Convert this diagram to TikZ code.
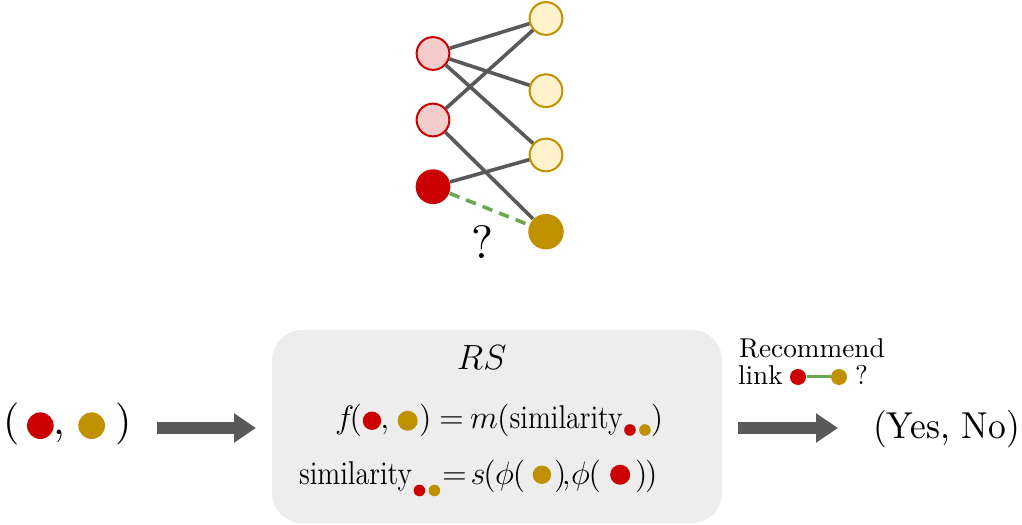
\RequirePackage{fix-cm}
\documentclass[tikz,border=0pt]{standalone}
\usepackage{graphicx}
\usetikzlibrary{arrows.meta}
\definecolor{cred}{HTML}{CC0000}
\definecolor{cgold}{HTML}{BF9000}
\definecolor{lred}{HTML}{F4CCCC}
\definecolor{lyel}{HTML}{FFF2CC}
\definecolor{cgreen}{HTML}{6AA84F}
\definecolor{agray}{HTML}{595959}
\definecolor{boxgray}{HTML}{EDEDED}
\newcommand\tdot[3]{\tikz[baseline=#3]\fill[#1] (0,0) circle[radius=#2];}
\newcommand\simtxt{\mbox{\scalebox{0.85}[1]{\fontsize{13.2}{15}\selectfont similarity}}}
\newcommand\hs[1]{\hspace{#1}}
\begin{document}
\begin{tikzpicture}[x=0.4pt,y=-0.4pt,
  unode/.style={circle,draw=cred,fill=lred,line width=0.8pt,minimum size=13.1pt,inner sep=0pt},
  inode/.style={circle,draw=cgold,fill=lyel,line width=0.8pt,minimum size=13.1pt,inner sep=0pt},
  uq/.style={circle,fill=cred,minimum size=13.9pt,inner sep=0pt},
  iq/.style={circle,fill=cgold,minimum size=14.2pt,inner sep=0pt},
  edge/.style={draw=agray,line width=1.44pt},
  qedge/.style={draw=cgreen,line width=1.44pt,dash pattern=on 4.2pt off 2.9pt},
  bigarrow/.style={draw=agray,line width=4.8pt,-{Triangle[length=8.8pt,width=11.2pt]}},
  rsbox/.style={rectangle,rounded corners=12pt,fill=boxgray,minimum width=180pt,minimum height=77.2pt,inner sep=0pt},
  txt/.style={inner sep=0pt,outer sep=0pt},
  mathline/.style={txt,anchor=base west,font=\fontsize{13}{15}\selectfont}]
\useasboundingbox (0,0) rectangle (1022,525);
% bipartite graph
\node[unode] (u1) at (433,53.5) {};
\node[unode] (u2) at (433,120) {};
\node[uq] (u3) at (433,186.7) {};
\node[inode] (v1) at (546,18.5) {};
\node[inode] (v2) at (546,90.7) {};
\node[inode] (v3) at (546,155) {};
\node[iq] (v4) at (546,231.7) {};
\draw[edge] (u1) -- (v1);
\draw[edge] (u1) -- (v2);
\draw[edge] (u1) -- (v3);
\draw[edge] (u2) -- (v1);
\draw[edge] (u2) -- (v4);
\draw[edge] (u3) -- (v3);
\draw[qedge] (u3) -- (v4);
\node[txt] (q) at (482.3,241.7) {\scalebox{1.87}{\fontsize{10}{12}\selectfont ?}};
% input pair
\node[txt,anchor=base west] (pair) at (3.8,434.5)
  {\scalebox{1.68}{\fontsize{10}{12}\selectfont (\hs{1.64pt}\tdot{cred}{3.17pt}{-2.1pt}\hs{0pt},\hs{3.1pt}\tdot{cgold}{3.17pt}{-2.1pt}\hs{2.4pt})}};
\coordinate (a1s) at (157,428);
\coordinate (a1e) at (256,428);
\draw[bigarrow] (a1s) -- (a1e);
% RS box
\node[rsbox] (rs) at (497,426.5) {};
\node[txt,anchor=base,font=\fontsize{14}{16}\selectfont] (rstitle) at (481.7,370) {$RS$};
\node[mathline] (eq1) at (335,429)
  {$f\hs{-1.8pt}(\hs{0.3pt}\tdot{cred}{3.68pt}{-3.3pt}\hs{-0.36pt},\hs{1.25pt}\tdot{cgold}{4pt}{-3.3pt}\hs{0.6pt})\hs{-0.55pt}=\hs{-1.15pt}m\hs{-0.3pt}(\simtxt\hs{0.6pt}\tdot{cred}{2.32pt}{0.4pt}\hs{1.36pt}\tdot{cgold}{2.32pt}{0.4pt})$};
\node[mathline] (eq2) at (299,484.5)
  {$\simtxt\hs{0.6pt}\tdot{cred}{2.32pt}{2.4pt}\hs{1.36pt}\tdot{cgold}{2.32pt}{2.4pt}\hs{-2.85pt}=\hs{-2.15pt}s\hs{-0.8pt}(\hs{-0.25pt}\phi\hs{-0.5pt}(\hs{3pt}\tdot{cgold}{3.68pt}{-3.9pt}\hs{1.2pt})\hs{-1.85pt}{,}\hs{0.15pt}\phi\hs{-0.5pt}(\hs{3.65pt}\tdot{cred}{4pt}{-3.9pt}\hs{1.95pt})\hs{-0.95pt})$};
% output
\coordinate (a2s) at (738,428);
\coordinate (a2e) at (838,428);
\draw[bigarrow] (a2s) -- (a2e);
\node[txt,anchor=base west,font=\fontsize{10.9}{13}\selectfont] (rec) at (739,358) {Recommend};
\node[txt,anchor=base west,font=\fontsize{10.9}{13}\selectfont] (link) at (738,384.5) {link};
\node[circle,fill=cred,minimum size=6.4pt,inner sep=0pt] (lr) at (798,377) {};
\node[circle,fill=cgold,minimum size=6.4pt,inner sep=0pt] (lg) at (839,377) {};
\draw[draw=cgreen,line width=1.2pt] (lr) -- (lg);
\node[txt,anchor=base west,font=\fontsize{10.9}{13}\selectfont] (lq) at (855,384.5) {?};
\node[txt,anchor=base west] (yn) at (873,439) {\scalebox{1.42}[1.5]{\fontsize{10}{12}\selectfont (Yes, No)}};
\end{tikzpicture}
\end{document}
